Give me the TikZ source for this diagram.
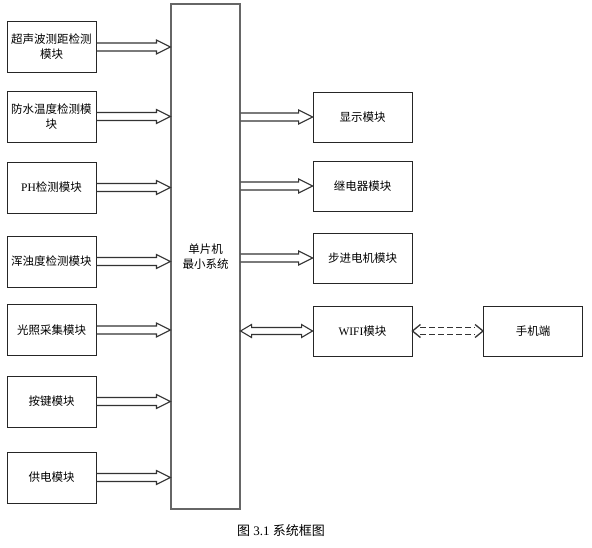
\documentclass[tikz,border=0pt]{standalone}
\usepackage{fontspec}
\setmainfont{Liberation Serif}
\newfontfamily\cjk{Noto Sans CJK SC}
\usetikzlibrary{calc}

% fleche creuse simple : #2 depart, #3 pointe
\newcommand{\fatarrow}[3][]{%
  \draw[#1] ($(#2)+(0,-4)$) -- ($(#3)+(-14,-4)$) -- ($(#3)+(-14,-7)$) -- (#3)
    -- ($(#3)+(-14,7)$) -- ($(#3)+(-14,4)$) -- ($(#2)+(0,4)$);}
% fleche creuse double : pointes en #2 et #3
\newcommand{\dfatarrow}[3][]{%
  \draw[#1] (#2) -- ($(#2)+(11,-6.5)$) -- ($(#2)+(11,-3.5)$) -- ($(#3)+(-11,-3.5)$)
    -- ($(#3)+(-11,-6.5)$) -- (#3) -- ($(#3)+(-11,6.5)$) -- ($(#3)+(-11,3.5)$)
    -- ($(#2)+(11,3.5)$) -- ($(#2)+(11,6.5)$) -- cycle;}
% fleche double en tirets, pointes courtes
\newcommand{\dasharrow}[3][]{%
  \draw[#1] ($(#2)+(8,-3.5)$) -- ($(#3)+(-8,-3.5)$);
  \draw[#1] ($(#2)+(8,3.5)$) -- ($(#3)+(-8,3.5)$);
  \draw[#1, solid] ($(#2)+(8,-6.5)$) -- (#2) -- ($(#2)+(8,6.5)$);
  \draw[#1, solid] ($(#3)+(-8,-6.5)$) -- (#3) -- ($(#3)+(-8,6.5)$);}

\tikzset{
  modbox/.style={draw=black!85, line width=0.9pt, minimum width=89pt, minimum height=51pt,
    inner sep=1pt, align=center, font=\fontsize{11.5}{15}\selectfont\cjk},
  outbox/.style={modbox, minimum width=99pt, minimum height=50pt},
  link/.style={line width=1.1pt, black!80}
}

\begin{document}
\begin{tikzpicture}[x=1pt,y=-1pt]
  \useasboundingbox (0,0) rectangle (592,548);
  % Bloc central
  \node[modbox, draw=black!60, line width=1.1pt, minimum width=69pt, minimum height=505pt] (mcu) at (205.5,256.5) {单片机\\最小系统};
  % Modules d'entree
  \node[modbox] (s1) at (51.5,47) {超声波测距检测\\模块};
  \node[modbox] (s2) at (51.5,116.5) {防水温度检测模\\块};
  \node[modbox] (s3) at (51.5,187.5) {{\rmfamily PH}检测模块};
  \node[modbox] (s4) at (51.5,261.5) {浑浊度检测模块};
  \node[modbox] (s5) at (51.5,330) {光照采集模块};
  \node[modbox] (s6) at (51.5,401.5) {按键模块};
  \node[modbox] (s7) at (51.5,477.5) {供电模块};
  % Modules de sortie
  \node[outbox] (disp) at (362.5,117) {显示模块};
  \node[outbox] (relay) at (362.5,186) {继电器模块};
  \node[outbox] (motor) at (362.5,258) {步进电机模块};
  \node[outbox] (wifi) at (362.5,331) {{\rmfamily WIFI}模块};
  \node[outbox] (phone) at (533,331) {手机端};
  % Fleches
  \foreach \n in {s1,s2,s3,s4,s5,s6,s7} {
    \coordinate (\n-in) at (mcu.west |- \n.east);
    \fatarrow[link]{\n.east}{\n-in}
  }
  \foreach \n in {disp,relay,motor} {
    \coordinate (\n-out) at (mcu.east |- \n.west);
    \fatarrow[link]{\n-out}{\n.west}
  }
  \coordinate (wifi-out) at (mcu.east |- wifi.west);
  \dfatarrow[link]{wifi-out}{wifi.west}
  \dasharrow[link, line width=1.3pt, dash pattern=on 6pt off 3pt]{wifi.east}{phone.west}
  % Legende
  \node[font=\fontsize{13}{16}\selectfont] (cap) at (281,531) {{\cjk 图} 3.1 {\cjk 系统框图}};
\end{tikzpicture}
\end{document}
